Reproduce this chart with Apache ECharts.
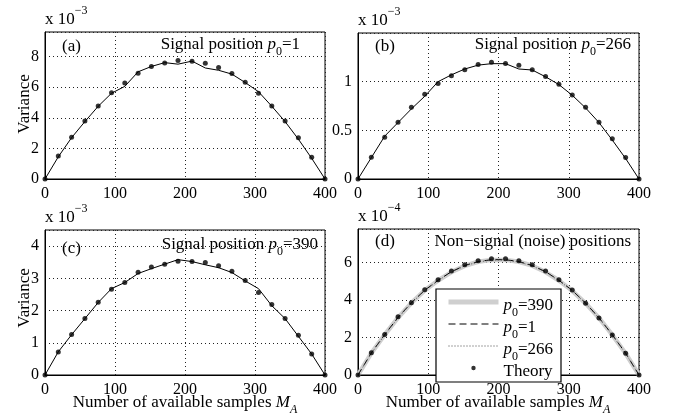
<!DOCTYPE html>
<html>
<head>
<meta charset="utf-8">
<script src="https://cdn.jsdelivr.net/npm/echarts@6/dist/echarts.min.js"></script>
<style>
  html, body { margin: 0; padding: 0; background: #fff; }
  #chart { width: 678px; height: 419px; }
</style>
</head>
<body>
<div id="chart"></div>
<script>
// sample positions M_A (x axis)
var xs = [0, 19, 38, 57, 76, 95, 114, 133, 152, 171, 190, 210, 229, 248, 267, 286, 305, 324, 343, 362, 381, 400];
var xTicks = [0, 100, 200, 300, 400];

// (a) signal position p0=1, units of 1e-3
var simA    = [0, 1.45, 2.7, 3.75, 4.75, 5.6, 6.05, 7.0, 7.35, 7.6, 7.5, 7.7, 7.25, 7.1, 6.85, 6.3, 5.7, 4.75, 3.75, 2.6, 1.35, 0];
var theoryA = [0, 1.51, 2.73, 3.78, 4.77, 5.64, 6.27, 6.91, 7.34, 7.58, 7.74, 7.69, 7.56, 7.28, 6.89, 6.32, 5.6, 4.77, 3.78, 2.69, 1.42, 0];
// (b) signal position p0=266, units of 1e-3
var simB    = [0, 0.22, 0.44, 0.58, 0.72, 0.85, 1.0, 1.07, 1.13, 1.17, 1.185, 1.185, 1.13, 1.12, 1.05, 0.97, 0.86, 0.73, 0.58, 0.40, 0.21, 0];
var theoryB = [0, 0.224, 0.43, 0.583, 0.736, 0.871, 0.98, 1.061, 1.122, 1.176, 1.2, 1.186, 1.169, 1.122, 1.054, 0.973, 0.864, 0.736, 0.583, 0.414, 0.22, 0];
// (c) signal position p0=390, units of 1e-3
var simC    = [0, 0.72, 1.25, 1.75, 2.25, 2.68, 2.87, 3.15, 3.3, 3.44, 3.58, 3.52, 3.42, 3.33, 3.18, 2.92, 2.68, 2.15, 1.75, 1.2, 0.65, 0];
var theoryC = [0, 0.71, 1.26, 1.75, 2.26, 2.66, 2.87, 3.19, 3.35, 3.44, 3.53, 3.52, 3.49, 3.39, 3.22, 2.93, 2.56, 2.19, 1.75, 1.23, 0.65, 0];
// (d) non-signal positions, units of 1e-4
var noise390 = [0, 1.17, 2.15, 3.06, 3.85, 4.52, 5.05, 5.5, 5.83, 6.05, 6.15, 6.15, 6.05, 5.84, 5.5, 5.05, 4.5, 3.83, 3.05, 2.14, 1.15, 0];
var noise1   = [0, 1.18, 2.16, 3.08, 3.86, 4.53, 5.06, 5.52, 5.85, 6.06, 6.16, 6.16, 6.06, 5.85, 5.52, 5.06, 4.52, 3.84, 3.06, 2.15, 1.16, 0];
var noise266 = [0, 1.16, 2.14, 3.05, 3.84, 4.51, 5.04, 5.5, 5.83, 6.04, 6.14, 6.14, 6.04, 5.83, 5.5, 5.04, 4.51, 3.82, 3.04, 2.13, 1.15, 0];
var theoryD  = [0, 1.19, 2.17, 3.11, 3.86, 4.56, 5.09, 5.55, 5.89, 6.1, 6.21, 6.21, 6.1, 5.89, 5.55, 5.09, 4.54, 3.83, 3.04, 2.14, 1.16, 0];

// y axis settings per panel
var yMax  = [9.6, 1.5, 4.5, 7.8];
var yStep = [2, 0.5, 1, 2];
var exps  = ['\u22123', '\u22123', '\u22123', '\u22124'];

var FONT = 'Liberation Serif';
var grids = [
  {left: 45,  top: 32,  width: 280, height: 147},
  {left: 358, top: 33,  width: 281, height: 146},
  {left: 45,  top: 230, width: 280, height: 145},
  {left: 358, top: 229, width: 281, height: 146}
];

function pairs(arr) {
  return xs.map(function (x, i) { return [x, arr[i]]; });
}

function tok(size, extra) {
  var o = {fontFamily: FONT, fontSize: size, color: '#000', verticalAlign: 'top'};
  for (var k in extra) o[k] = extra[k];
  return o;
}
var rich = {
  n:   tok(17, {lineHeight: 18}),
  i:   tok(17, {lineHeight: 18, fontStyle: 'italic'}),
  s:   tok(12, {lineHeight: 12, padding: [10, 0, 0, 0]}),
  is:  tok(12, {lineHeight: 12, padding: [10, 0, 0, 0], fontStyle: 'italic'}),
  b:   tok(17, {lineHeight: 18, padding: [6, 0, 0, 0]}),
  sup: tok(12, {lineHeight: 12}),
  // legend tokens, dropped a little so the text sits level with the icons
  ln:  tok(17, {lineHeight: 18, padding: [4, 0, 0, 0]}),
  li:  tok(17, {lineHeight: 18, padding: [4, 0, 0, 0], fontStyle: 'italic'}),
  ls:  tok(12, {lineHeight: 12, padding: [14, 0, 0, 0]})
};

function txt(x, y, text, align, vAlign, rot) {
  return {
    type: 'text', x: x, y: y, rotation: rot || 0, z: 5,
    style: {text: text, rich: rich, font: '17px "' + FONT + '"', fill: '#000',
            align: align || 'left', textAlign: align || 'left',
            verticalAlign: vAlign || 'top', textVerticalAlign: vAlign || 'top'}
  };
}

var xAxes = [], yAxes = [];
grids.forEach(function (g, k) {
  xAxes.push({
    type: 'value', gridIndex: k, min: xTicks[0], max: xTicks[xTicks.length - 1], interval: 100,
    axisLine: {show: true, lineStyle: {color: '#000', width: 1}},
    axisTick: {show: false},
    axisLabel: {color: '#000', fontFamily: FONT, fontSize: 16, margin: 7},
    splitLine: {show: true, lineStyle: {color: '#222', type: [1, 3], width: 1}}
  });
  yAxes.push({
    type: 'value', gridIndex: k, min: 0, max: yMax[k], interval: yStep[k],
    axisLine: {show: true, lineStyle: {color: '#000', width: 1}},
    axisTick: {show: false},
    axisLabel: {color: '#000', fontFamily: FONT, fontSize: 16, margin: 6, showMaxLabel: false},
    splitLine: {show: true, lineStyle: {color: '#222', type: [1, 3], width: 1}}
  });
});

function simLine(name, k, data) {
  return {name: name, type: 'line', xAxisIndex: k, yAxisIndex: k, data: pairs(data),
          symbol: 'none', lineStyle: {color: '#000', width: 1}, z: 3};
}
function dots(name, k, data) {
  return {name: name, type: 'scatter', xAxisIndex: k, yAxisIndex: k, data: pairs(data),
          symbol: 'circle', symbolSize: 5, itemStyle: {color: '#000'}, z: 4};
}
function noiseLine(name, data, lineStyle) {
  return {name: name, type: 'line', xAxisIndex: 3, yAxisIndex: 3, data: pairs(data),
          symbol: 'none', itemStyle: {color: lineStyle.color, opacity: 0}, lineStyle: lineStyle, z: 2};
}

var series = [
  simLine('a-sim', 0, simA), dots('a-theory', 0, theoryA),
  simLine('b-sim', 1, simB), dots('b-theory', 1, theoryB),
  simLine('c-sim', 2, simC), dots('c-theory', 2, theoryC),
  noiseLine('p0=390', noise390, {color: '#cfcfcf', width: 4.5}),
  noiseLine('p0=1', noise1, {color: '#000', width: 1, type: [7, 4]}),
  noiseLine('p0=266', noise266, {color: '#555', width: 1, type: [1, 2]}),
  dots('Theory', 3, theoryD)
];

var graphics = [
  // legend frame in panel (d)
  {type: 'rect', z: 3, shape: {x: 436, y: 289, width: 125, height: 93},
   style: {fill: '#fff', stroke: '#000', lineWidth: 1.2}},
  txt(25, 104, '{n|Variance}', 'center', 'middle', Math.PI / 2),
  txt(25, 298, '{n|Variance}', 'center', 'middle', Math.PI / 2),
  txt(185, 394, '{n|Number of available samples }{i|M}{is|A}', 'center'),
  txt(498, 394, '{n|Number of available samples }{i|M}{is|A}', 'center'),
  txt(62, 38, '{n|(a)}'),
  txt(375, 38, '{n|(b)}'),
  txt(62, 240, '{n|(c)}'),
  txt(375, 233, '{n|(d)}'),
  txt(300, 36, '{n|Signal position }{i|p}{s|0}{n|=1}', 'right'),
  txt(631, 36, '{n|Signal position }{i|p}{s|0}{n|=266}', 'right'),
  txt(318, 236, '{n|Signal position }{i|p}{s|0}{n|=390}', 'right'),
  txt(631, 233, '{n|Non\u2212signal (noise) positions}', 'right')
];
// "x 10^-k" scale labels above each panel
grids.forEach(function (g, k) {
  graphics.push(txt(g.left, g.top - 27, '{b|x 10}{sup|' + exps[k] + '}'));
});

// small centred dot inside the full legend icon box
var dotIcon = 'path://M0,0L0.01,0L0,0.01Z M49.99,13L50,13L50,12.99Z M22.8,6.5A2.2,2.2 0 1,0 27.2,6.5A2.2,2.2 0 1,0 22.8,6.5Z';

var chart = echarts.init(document.getElementById('chart'));
chart.setOption({
  backgroundColor: '#fff',
  animation: false,
  grid: grids.map(function (g) {
    return {left: g.left, top: g.top, width: g.width, height: g.height,
            show: true, borderColor: '#000', borderWidth: 1, backgroundColor: 'transparent'};
  }),
  xAxis: xAxes,
  yAxis: yAxes,
  legend: {
    data: [
      {name: 'p0=390', itemStyle: {opacity: 0}, lineStyle: {width: 5, color: '#cfcfcf'}},
      {name: 'p0=1', itemStyle: {opacity: 0}, lineStyle: {width: 1, color: '#000'}},
      {name: 'p0=266', itemStyle: {opacity: 0}, lineStyle: {width: 1, color: '#444'}},
      {name: 'Theory', icon: dotIcon}
    ],
    orient: 'vertical', left: 446, top: 293, padding: 0,
    itemWidth: 50, itemHeight: 13, itemGap: -4, selectedMode: false, z: 5,
    formatter: function (name) {
      if (name === 'Theory') return '{ln|Theory}';
      return '{li|p}{ls|0}{ln|=' + name.split('=')[1] + '}';
    },
    textStyle: {rich: rich, fontFamily: FONT, fontSize: 17}
  },
  graphic: graphics,
  series: series
});
</script>
</body>
</html>
